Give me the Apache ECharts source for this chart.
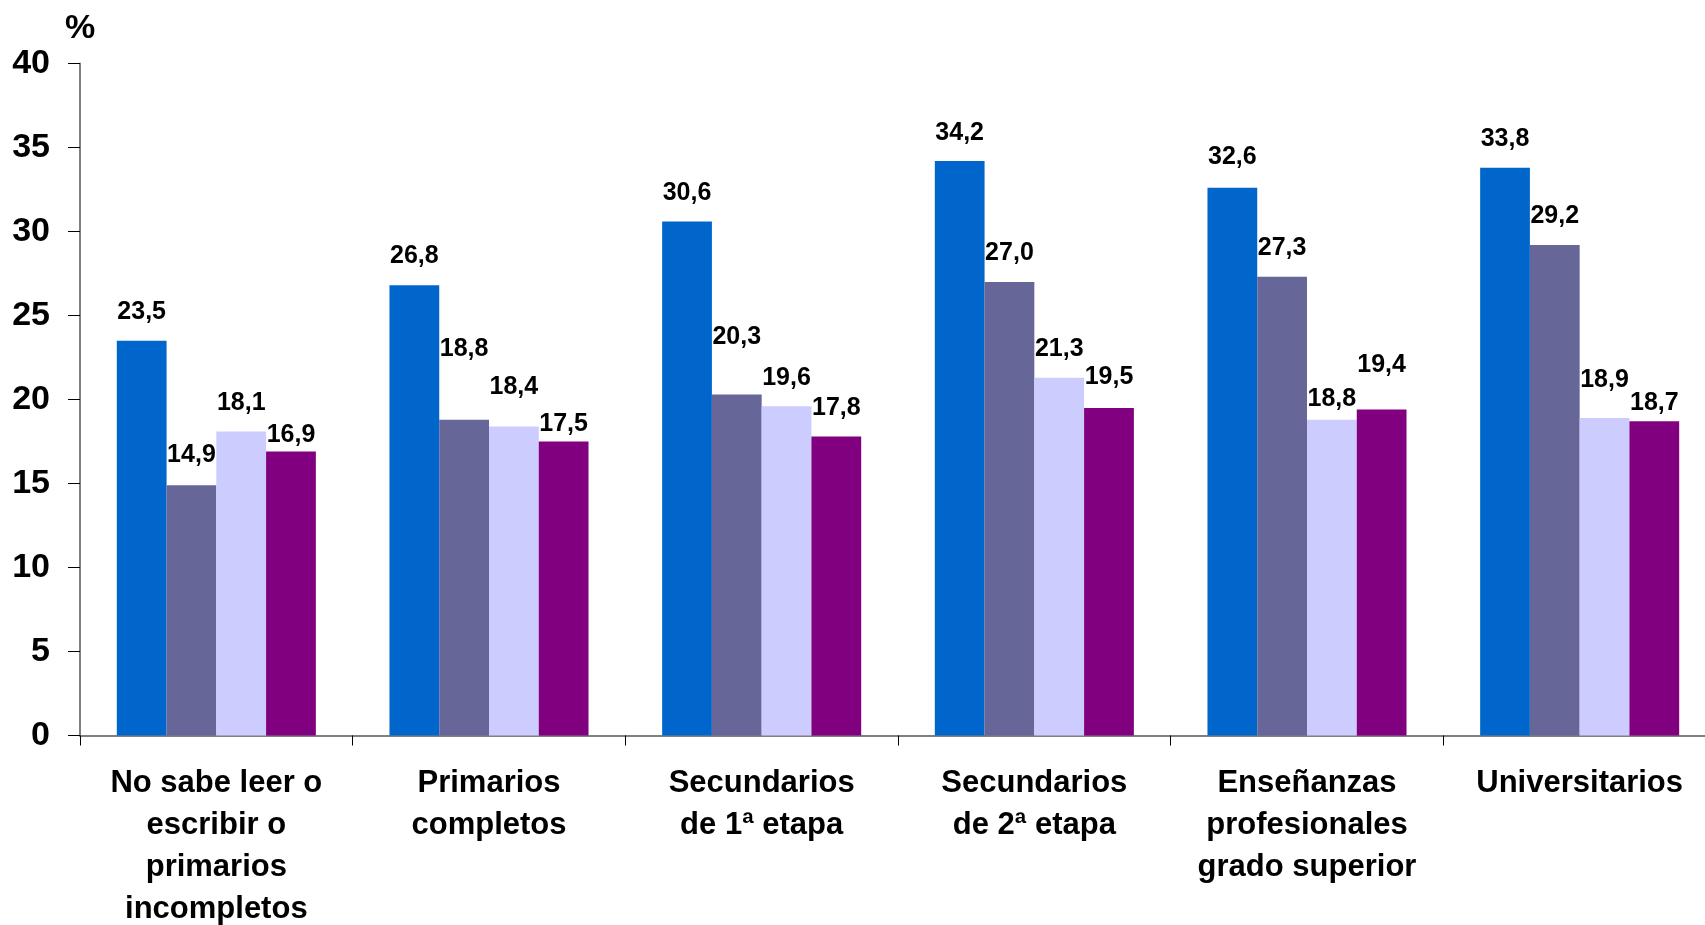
<!DOCTYPE html>
<html style="height: 100%">
<head>
    <meta charset="utf-8">
    <title>Nivel de estudios</title>
</head>
<body style="height: 100%; margin: 0; background: #fff;">
    <div id="container" style="width: 1705px; height: 925px;"></div>
    <script src="https://cdn.jsdelivr.net/npm/echarts@6/dist/echarts.min.js"></script>
    <script type="text/javascript">
        // categorias (nivel de estudios)
        var categories = [
            'No sabe leer o\nescribir o\nprimarios\nincompletos',
            'Primarios\ncompletos',
            'Secundarios\nde 1ª etapa',
            'Secundarios\nde 2ª etapa',
            'Enseñanzas\nprofesionales\ngrado superior',
            'Universitarios'
        ];
        var serie1 = [23.5, 26.8, 30.6, 34.2, 32.6, 33.8];
        var serie2 = [14.9, 18.8, 20.3, 27.0, 27.3, 29.2];
        var serie3 = [18.1, 18.4, 19.6, 21.3, 18.8, 18.9];
        var serie4 = [16.9, 17.5, 17.8, 19.5, 19.4, 18.7];
        var yTicks = [0, 5, 10, 15, 20, 25, 30, 35, 40];

        // desplazamiento vertical de las etiquetas (movidas a mano en el original)
        var shift1 = [0, -1, 0, 1, -2, 0];
        var shift2 = [-2, -42, -29, 0, 0, 0];
        var shift3 = [0, -11, 0, 0, 8, -9];
        var shift4 = [12, 11, 0, -2, -16, 10];

        var colors = ['#0066CC', '#666699', '#CCCCFF', '#800080'];
        var font = "'Liberation Sans', Arial, sans-serif";

        function bar(data, shift, i) {
            return {
                type: 'bar',
                data: data.map(function (v, k) {
                    return { value: v, label: { offset: [0, shift[k]] } };
                }),
                barGap: '0%',
                barCategoryGap: '27%',
                itemStyle: { color: colors[i] },
                label: {
                    show: true,
                    position: 'top',
                    distance: 16,
                    color: '#000',
                    fontFamily: font,
                    fontWeight: 'bold',
                    fontSize: 25,
                    formatter: function (p) {
                        return p.value.toFixed(1).replace('.', ',');
                    }
                }
            };
        }

        var dom = document.getElementById("container");
        var myChart = echarts.init(dom);
        var option = {
            animation: false,
            // el eje sigue mas alla del borde derecho, como en el original recortado
            grid: {
                left: 80, width: 1636, top: 63.5, bottom: 189.5,
                containLabel: false,
                outerBoundsMode: 'none'
            },
            xAxis: {
                type: 'category',
                data: categories,
                axisLine: { lineStyle: { color: '#808080', width: 2 } },
                axisTick: { show: true, length: 10, lineStyle: { color: '#000' } },
                axisLabel: {
                    color: '#000',
                    fontFamily: font,
                    fontWeight: 'bold',
                    fontSize: 31,
                    lineHeight: 42,
                    margin: 27,
                    interval: 0
                }
            },
            yAxis: {
                type: 'value',
                min: 0,
                max: yTicks[yTicks.length - 1],
                interval: 5,
                name: '%',
                nameGap: 18,
                nameTextStyle: {
                    color: '#000',
                    fontFamily: font,
                    fontWeight: 'bold',
                    fontSize: 34
                },
                splitLine: { show: false },
                axisLine: { show: true, lineStyle: { color: '#808080', width: 2 } },
                axisTick: { show: true, length: 12, lineStyle: { color: '#000' } },
                axisLabel: {
                    color: '#000',
                    fontFamily: font,
                    fontWeight: 'bold',
                    fontSize: 34,
                    margin: 30
                }
            },
            series: [
                bar(serie1, shift1, 0),
                bar(serie2, shift2, 1),
                bar(serie3, shift3, 2),
                bar(serie4, shift4, 3)
            ]
        };
        myChart.setOption(option, true);
    </script>
</body>
</html>
